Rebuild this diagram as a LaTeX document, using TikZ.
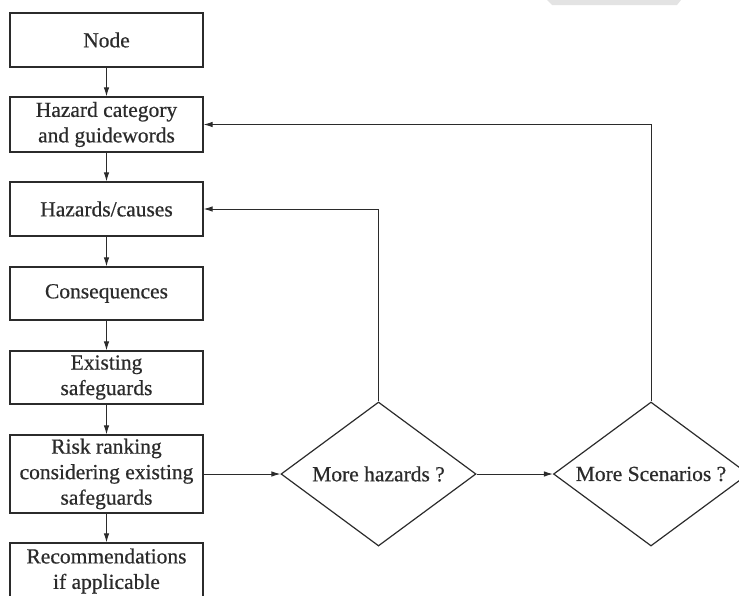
\documentclass[tikz,border=0pt]{standalone}
\usepackage{fontspec}
\setmainfont{Liberation Serif}[FakeBold=0.6]
\usetikzlibrary{shapes.geometric,arrows.meta}
\definecolor{ink}{HTML}{2B2B2B}
\begin{document}
\begin{tikzpicture}[x=1pt,y=-1pt,
  box/.style={draw=ink,line width=1.3pt,minimum width=193pt,inner sep=0pt,align=center,text=ink,font=\fontsize{21.5}{25.5}\selectfont},
  dec/.style={draw=ink,line width=1.2pt,shape=diamond,minimum width=195pt,minimum height=144pt,inner sep=0pt},
  dectext/.style={text=ink,font=\fontsize{21.5}{25.5}\selectfont,inner sep=0pt},
  arr/.style={draw=ink,line width=0.9pt,-{Latex[length=9pt,width=5.5pt]}}]
\useasboundingbox (0,0) rectangle (739,595);
\begin{scope}
\clip (0,0) rectangle (739,595);
\fill[gray!22] (547,0) -- (681,0) -- (677,5) -- (552,5) -- cycle;
\node[box,minimum height=54pt] (n1) at (106.5,40) {Node};
\node[box,minimum height=55pt] (n2) at (106.5,124.5) {Hazard category\\and guidewords};
\node[box,minimum height=54pt] (n3) at (106.5,209) {Hazards/causes};
\node[box,minimum height=53pt] (n4) at (106.5,293.5) {Consequences};
\node[box,minimum height=53pt] (n5) at (106.5,377.5) {Existing\\safeguards};
\node[box,minimum height=78pt] (n6) at (106.5,474) {Risk ranking\\considering existing\\safeguards};
\node[box,minimum height=56pt] (n7) at (106.5,571) {Recommendations\\if applicable};
\node[dec] (d1) at (378.5,474) {};
\node[dectext] (t1) at (d1.center) {More hazards ?};
\node[dec] (d2) at (651,474) {};
\node[dectext] (t2) at (d2.center) {More Scenarios ?};
\draw[arr] (n1) -- (n2);
\draw[arr] (n2) -- (n3);
\draw[arr] (n3) -- (n4);
\draw[arr] (n4) -- (n5);
\draw[arr] (n5) -- (n6);
\draw[arr] (n6) -- (n7);
\draw[arr] (n6.east) -- (d1.west);
\draw[arr] (d1.east) -- (d2.west);
\draw[arr] (d1.north) |- (n3.east);
\draw[arr] (d2.north) |- (n2.east);
\end{scope}
\end{tikzpicture}
\end{document}
